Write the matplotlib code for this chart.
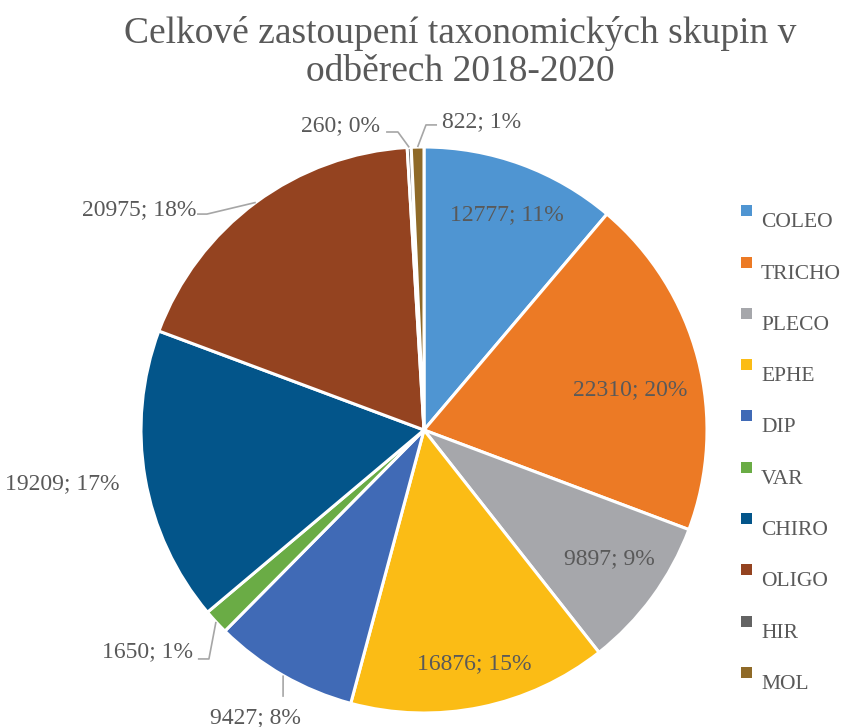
import numpy as np
import matplotlib
matplotlib.use("Agg")
import matplotlib.pyplot as plt
from matplotlib.patches import Rectangle

plt.rcParams['font.family'] = ['Liberation Serif', 'DejaVu Serif']

categories = ["COLEO", "TRICHO", "PLECO", "EPHE", "DIP", "VAR", "CHIRO", "OLIGO", "HIR", "MOL"]
values = [12777, 22310, 9897, 16876, 9427, 1650, 19209, 20975, 260, 822]
colors = ["#4F95D2", "#EC7A25", "#A6A7AB", "#FBBC15", "#406AB6", "#6AAC45",
          "#03558A", "#944320", "#636363", "#8F6A28"]
title_lines = ["Celkové zastoupení taxonomických skupin v", "odběrech 2018-2020"]

W, H = 841, 727
fig = plt.figure(figsize=(W / 100, H / 100), dpi=100)
cx, cy, R = 424, 430, 283
ax = fig.add_axes([(cx - R) / W, (H - cy - R) / H, 2 * R / W, 2 * R / H])

wedges, _ = ax.pie(values, colors=colors, startangle=90, counterclock=False, radius=1,
                   wedgeprops=dict(edgecolor='white', linewidth=2.2))
ax.set_xlim(-1, 1)
ax.set_ylim(-1, 1)
ax.set_aspect('equal')
ax.axis('off')

total = sum(values)
txt_color = "#595959"
line_color = "#A6A6A6"
fs = 17

layout = {
    "COLEO": ((0.293, 0.760), 'center', None),
    "TRICHO": ((0.728, 0.141), 'center', None),
    "PLECO": ((0.655, -0.455), 'center', None),
    "EPHE": ((0.177, -0.827), 'center', None),
    "DIP": ((-0.597, -1.015), 'center', [(-0.498, -0.943)]),
    "VAR": ((-0.816, -0.784), 'right', [(-0.760, -0.809), (-0.799, -0.809)]),
    "CHIRO": ((-1.279, -0.191), 'center', None),
    "OLIGO": ((-0.806, 0.777), 'right', [(-0.767, 0.763), (-0.802, 0.763)]),
    "HIR": ((-0.155, 1.074), 'right', [(-0.092, 1.053), (-0.134, 1.053)]),
    "MOL": ((0.064, 1.088), 'left', [(0.007, 1.078), (0.046, 1.078)]),
}

for w, cat, v in zip(wedges, categories, values):
    pct = v / total * 100
    label = f"{v}; {pct:.0f}%"
    (tx, ty), ha, pts = layout[cat]
    ax.text(tx, ty, label, ha=ha, va='center', fontsize=fs, color=txt_color, clip_on=False)
    if pts:
        mid = np.deg2rad((w.theta1 + w.theta2) / 2)
        ex, ey = np.cos(mid), np.sin(mid)
        xs = [ex] + [p[0] for p in pts]
        ys = [ey] + [p[1] for p in pts]
        ax.plot(xs, ys, color=line_color, lw=1.2, clip_on=False, solid_capstyle='butt')

for line, base in zip(title_lines, [43, 81]):
    fig.text(460 / W, 1 - base / H, line, ha='center', va='baseline', fontsize=27,
             color=txt_color)

for i, (cat, col) in enumerate(zip(categories, colors)):
    my = 210.7 + i * 51.3
    fig.patches.append(Rectangle((741 / W, 1 - (my + 5.5) / H), 11 / W, 11 / H,
                                 transform=fig.transFigure, facecolor=col, edgecolor='none'))
    fig.text(761 / W, 1 - (my + 12) / H, cat, ha='left', va='center', fontsize=15.5,
             color=txt_color)

fig.savefig("out.png", dpi=100, facecolor='white')
